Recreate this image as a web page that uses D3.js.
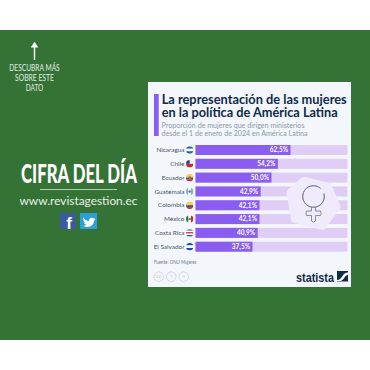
<!DOCTYPE html>
<html>
<head>
<meta charset="utf-8">
<script src="https://cdn.jsdelivr.net/npm/d3@7"></script>
<style>
html, body { margin: 0; padding: 0; background: #fff; }
svg { display: block; }
text { font-family: "Lato", "Liberation Sans", sans-serif; }
</style>
</head>
<body>
<script>
var countries = ["Nicaragua", "Chile", "Ecuador", "Guatemala", "Colombia", "México", "Costa Rica", "El Salvador"];
var shares = [62.5, 54.2, 50.0, 42.9, 42.1, 42.1, 40.9, 37.5];
var flagStripes = [
  ["#2b62ab", "#ffffff", "#2b62ab"],
  ["#ffffff", "#d5232f"],
  ["#f6cd2e", "#f6cd2e", "#2b4f9e", "#d5232f"],
  ["#7fb2e0", "#ffffff", "#7fb2e0"],
  ["#f6cd2e", "#f6cd2e", "#2b4f9e", "#d5232f"],
  ["#1f7a4a", "#ffffff", "#cc2936"],
  ["#1f3f8f", "#ffffff", "#d5232f", "#ffffff", "#1f3f8f"],
  ["#1f4fa0", "#ffffff", "#1f4fa0"]
];
var titleLines = ["La representación de las mujeres", "en la política de América Latina"];
var titleWidths = [185, 176];
var subtitleLines = ["Proporción de mujeres que dirigen ministerios", "desde el 1 de enero de 2024 en América Latina"];
var subtitleWidths = [143, 146];
var moreLines = ["DESCUBRA MÁS", "SOBRE ESTE", "DATO"];
var moreWidths = [50.5, 39, 17.5];

var green = "#357236", purple = "#8a5cf0", lilac = "#dfcdf5", ink = "#0f2a4a";

var svg = d3.select("body").append("svg")
    .attr("width", 370)
    .attr("height", 370);

// squeeze a centred text to a width, real scale so the box shrinks too
function squeeze(sel, cx, cy, w) {
  var natural = sel.node().getComputedTextLength();
  sel.attr("transform", "translate(" + cx + "," + cy + ")scale(" + (w / natural) + ",1)");
}

svg.append("rect").attr("width", 370).attr("height", 370).attr("fill", "#ffffff");
svg.append("rect").attr("y", 30).attr("width", 370).attr("height", 310).attr("fill", green);

// left panel
var arrow = svg.append("g").attr("fill", "#ffffff");
arrow.append("path").attr("d", d3.line()([[34.5, 41.7], [38.3, 47.5], [30.7, 47.5]]) + "Z");
arrow.append("rect").attr("x", 33.8).attr("y", 47).attr("width", 1.4).attr("height", 13);

svg.append("g").selectAll("text")
    .data(moreLines)
  .enter().append("text")
    .attr("text-anchor", "middle")
    .attr("fill", "#e3ece2")
    .style("font-size", "9.8px")
    .text(function(d) { return d; })
    .each(function(d, i) { squeeze(d3.select(this), 34.5, 70.7 + i * 10.2, moreWidths[i]); });

var cifra = svg.append("text")
    .attr("text-anchor", "middle")
    .attr("fill", "#ffffff")
    .style("font-weight", 900)
    .style("font-size", "27px")
    .text("CIFRA DEL DÍA");
squeeze(cifra, 79, 182.5, 116);

svg.append("rect").attr("x", 40).attr("y", 189).attr("width", 77).attr("height", 1).attr("fill", "#b5cdb4");

svg.append("text")
    .attr("x", 78.5)
    .attr("y", 204.5)
    .attr("text-anchor", "middle")
    .attr("fill", "#e8f0e7")
    .attr("textLength", 118)
    .attr("lengthAdjust", "spacingAndGlyphs")
    .style("font-size", "11.5px")
    .text("www.revistagestion.ec");

var fb = svg.append("g").attr("transform", "translate(60,213)");
fb.append("rect").attr("width", 16).attr("height", 16).attr("fill", "#3b5b9c");
fb.append("text").attr("x", 9).attr("y", 16).attr("text-anchor", "middle").attr("fill", "#ffffff")
    .style("font-family", "'Liberation Sans', sans-serif").style("font-weight", 700).style("font-size", "17px").text("f");
var tw = svg.append("g").attr("transform", "translate(80,213)");
tw.append("rect").attr("width", 17).attr("height", 16).attr("fill", "#2a9fd8");
tw.append("path")
    .attr("fill", "#ffffff")
    .attr("d", "M3 4.5C5 7 7 8 9 8C8.6 5.5 11.5 3.6 13.4 5.4L15 4.8L14.2 6.3L15.4 6C15 7 14.5 7.3 14 7.8C14 11.5 11 14 7.5 14C5.5 14 4 13.5 3 12.8C4.5 12.9 5.7 12.5 6.6 11.7C5.4 11.6 4.6 11 4.2 10L5.3 10C4 9.5 3.3 8.5 3.3 7.3L4.4 7.6C3.2 6.7 2.9 5.6 3 4.5Z");

// card
svg.append("rect").attr("x", 148).attr("y", 82).attr("width", 203).attr("height", 205).attr("fill", "#f3f7fb");
svg.append("rect").attr("x", 154).attr("y", 94).attr("width", 4.7).attr("height", 42).attr("fill", purple);

svg.append("g").selectAll("text")
    .data(titleLines)
  .enter().append("text")
    .attr("x", 161.7)
    .attr("y", function(d, i) { return 103.7 + i * 13.6; })
    .attr("fill", ink)
    .attr("textLength", function(d, i) { return titleWidths[i]; })
    .attr("lengthAdjust", "spacingAndGlyphs")
    .style("font-weight", 700)
    .style("font-size", "12.5px")
    .text(function(d) { return d; });

svg.append("g").selectAll("text")
    .data(subtitleLines)
  .enter().append("text")
    .attr("x", 161.5)
    .attr("y", function(d, i) { return 127.5 + i * 8.6; })
    .attr("fill", "#8b97a8")
    .attr("textLength", function(d, i) { return subtitleWidths[i]; })
    .attr("lengthAdjust", "spacingAndGlyphs")
    .style("font-size", "7.2px")
    .text(function(d) { return d; });

// chart
var x = d3.scaleLinear().domain([0, 100]).range([195.5, 347.5]);
var y = d3.scaleBand().domain(countries).range([145, 251.7]).paddingInner(0.277);
var pct = d3.formatLocale({ decimal: ",", thousands: ".", grouping: [3], currency: ["", ""] }).format(".1f");

var row = svg.append("g").selectAll("g")
    .data(countries)
  .enter().append("g");

row.append("rect")
    .attr("x", x(0))
    .attr("y", function(d) { return y(d); })
    .attr("width", x(100) - x(0))
    .attr("height", y.bandwidth())
    .attr("fill", lilac);

row.append("rect")
    .attr("x", x(0))
    .attr("y", function(d) { return y(d); })
    .attr("width", function(d, i) { return x(shares[i]) - x(0); })
    .attr("height", y.bandwidth())
    .attr("fill", purple);

row.append("text")
    .attr("x", function(d, i) { return x(shares[i]) - 2.5; })
    .attr("y", function(d) { return y(d) + y.bandwidth() / 2; })
    .attr("dy", "0.35em")
    .attr("text-anchor", "end")
    .attr("fill", "#ffffff")
    .style("font-weight", 700)
    .style("font-size", "6.5px")
    .text(function(d, i) { return pct(shares[i]) + "%"; });

row.append("text")
    .attr("x", 184.5)
    .attr("y", function(d) { return y(d) + y.bandwidth() / 2; })
    .attr("dy", "0.35em")
    .attr("text-anchor", "end")
    .attr("fill", "#44546a")
    .style("font-size", "6.4px")
    .text(function(d) { return d; });

// flags
var defs = svg.append("defs");
row.each(function(d, i) {
  var cy = y(d) + y.bandwidth() / 2, r = 3.7, cx = 189.7;
  defs.append("clipPath").attr("id", "flag" + i)
    .append("circle").attr("cx", cx).attr("cy", cy).attr("r", r);
  var flag = d3.select(this).append("g").attr("clip-path", "url(#flag" + i + ")");
  var stripes = flagStripes[i];
  var band = d3.scaleBand().domain(d3.range(stripes.length)).range([cy - r, cy + r]);
  if (d === "México" || d === "Guatemala") {
    band.range([cx - r, cx + r]);
    flag.selectAll("rect").data(stripes).enter().append("rect")
      .attr("x", function(c, k) { return band(k); })
      .attr("y", cy - r)
      .attr("width", band.bandwidth())
      .attr("height", 2 * r)
      .attr("fill", function(c) { return c; });
  } else {
    flag.selectAll("rect").data(stripes).enter().append("rect")
      .attr("x", cx - r)
      .attr("y", function(c, k) { return band(k); })
      .attr("width", 2 * r)
      .attr("height", band.bandwidth())
      .attr("fill", function(c) { return c; });
  }
  if (d === "Chile") {
    flag.append("rect").attr("x", cx - r).attr("y", cy - r).attr("width", r).attr("height", r).attr("fill", "#1f3f8f");
  }
  if (d === "Ecuador" || d === "Guatemala" || d === "México") {
    flag.append("circle").attr("cx", cx).attr("cy", cy).attr("r", 1.3).attr("fill", "#8a7a4a");
  }
});

// venus badge
var badge = svg.append("g");
badge.append("path")
    .attr("d", d3.line()([[304, 181], [328, 187], [336.5, 207], [322, 226], [295, 219], [290.5, 193]]) + "Z")
    .attr("fill", "#f0ebfb")
    .attr("stroke", "#f0ebfb")
    .attr("stroke-width", 8)
    .attr("stroke-linejoin", "round");
var venus = badge.append("g").attr("fill", "none").attr("stroke", "#7a8294").attr("stroke-width", 0.9);
venus.append("path")
    .attr("d", d3.arc()({ innerRadius: 10.8, outerRadius: 10.8, startAngle: 1.3, endAngle: 1.3 + 2 * Math.PI - 0.6 }))
    .attr("transform", "translate(313.5,196.5)");
venus.append("path").attr("d", "M311.5 207.3V211H306.5Q305.5 213.3 306.5 215.5H311.5V221Q313.5 223.5 315.5 221V215.5H320.5Q321.5 213.3 320.5 211H315.5V207.3");

// footer
svg.append("text")
    .attr("x", 154)
    .attr("y", 264)
    .attr("fill", "#6b7a90")
    .attr("textLength", 42.5)
    .attr("lengthAdjust", "spacingAndGlyphs")
    .style("font-size", "5px")
    .text("Fuente: ONU Mujeres");

var cc = svg.append("g").selectAll("g")
    .data(["cc", "i", "="])
  .enter().append("g")
    .attr("transform", function(d, i) { return "translate(" + (158.7 + i * 12.5) + ",276.7)"; });
cc.append("circle").attr("r", 4.8).attr("fill", "none").attr("stroke", "#c3cbd6").attr("stroke-width", 0.7);
cc.append("text").attr("dy", "0.35em").attr("text-anchor", "middle").attr("fill", "#c3cbd6")
    .style("font-size", "5px").text(function(d) { return d; });

svg.append("text")
    .attr("x", 296)
    .attr("y", 281.5)
    .attr("fill", ink)
    .attr("textLength", 38)
    .attr("lengthAdjust", "spacingAndGlyphs")
    .style("font-family", "'Liberation Sans', sans-serif")
    .style("font-weight", 700)
    .style("font-size", "13.5px")
    .text("statista");
var logo = svg.append("g").attr("transform", "translate(337,271)");
logo.append("rect").attr("width", 11).attr("height", 10.5).attr("fill", ink);
logo.append("path").attr("d", "M0 9C3 9 4 7 5.5 5C7 3 8 1.5 11 1.5V4C9 4 8.5 5 7.5 6.5C6.5 8 5 10 3 10H0Z").attr("fill", "#ffffff");
</script>
</body>
</html>
